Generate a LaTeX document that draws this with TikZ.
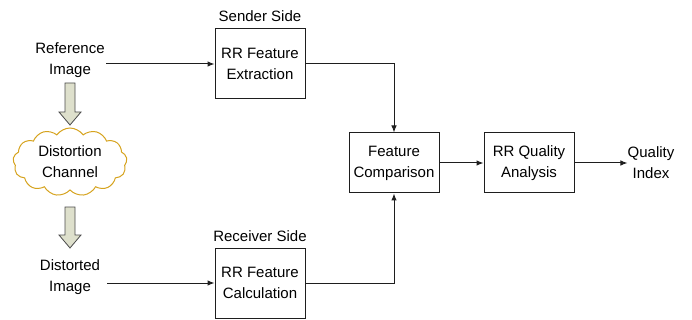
\documentclass[tikz,border=0pt]{standalone}
\usepackage{fontspec}
\setmainfont{Liberation Sans}
\usetikzlibrary{arrows.meta,shapes.symbols}
\definecolor{cloudc}{RGB}{214,163,30}
\definecolor{barrowf}{RGB}{222,224,204}
\definecolor{linec}{RGB}{30,30,30}
\begin{document}
\begin{tikzpicture}[x=1pt,y=-1pt,
  txt/.style={font=\fontsize{15}{21}\selectfont, align=center, inner sep=0pt},
  blk/.style={draw=linec, line width=1pt, minimum width=90pt, minimum height=70pt, align=center, font=\fontsize{15}{21}\selectfont, inner sep=0pt},
  conn/.style={draw=linec, line width=1pt, -{Latex[length=7pt,width=5.5pt]}},
  barrow/.style={draw=linec!80, fill=barrowf, line width=0.8pt, line join=miter}]
\useasboundingbox (0,0) rectangle (692,320);
% nodes
\node[txt] (ref) at (70,60) {Reference\\Image};
\node[txt] (dist) at (70,277) {Distorted\\Image};
\node[cloud, draw=cloudc, line width=1pt, fill=white, cloud puffs=13, cloud puff arc=110, aspect=1.7, minimum width=114pt, minimum height=68pt, txt] (cloud) at (70,162) {Distortion\\Channel};
\node[blk, minimum height=70pt] (ext) at (260,64) {RR Feature\\Extraction};
\node[txt, anchor=south] (send) at (260,22) {Sender Side};
\node[blk, minimum height=70pt] (calc) at (260,283) {RR Feature\\Calculation};
\node[txt, anchor=south] (recv) at (260,242) {Receiver Side};
\node[blk, minimum height=60pt] (comp) at (394,163) {Feature\\Comparison};
\node[blk, minimum height=60pt] (qa) at (529,163) {RR Quality\\Analysis};
\node[txt] (qi) at (651,163) {Quality\\Index};
% block arrows
\path[barrow] (65,83) -- (75,83) -- (75,112) -- (81,112) -- (70,125) -- (59,112) -- (65,112) -- cycle;
\path[barrow] (65,207) -- (75,207) -- (75,235) -- (81,235) -- (70,248) -- (59,235) -- (65,235) -- cycle;
% connectors
\coordinate (refend) at (106,64);
\coordinate (distend) at (107,283);
\draw[conn] (refend) -- (ext.west);
\draw[conn] (distend) -- (calc.west);
\draw[conn] (ext.east) -| (comp.north);
\draw[conn] (calc.east) -| (comp.south);
\draw[conn] (comp.east) -- (qa.west);
\draw[conn] (qa.east) -- (qi.west);
\end{tikzpicture}
\end{document}
